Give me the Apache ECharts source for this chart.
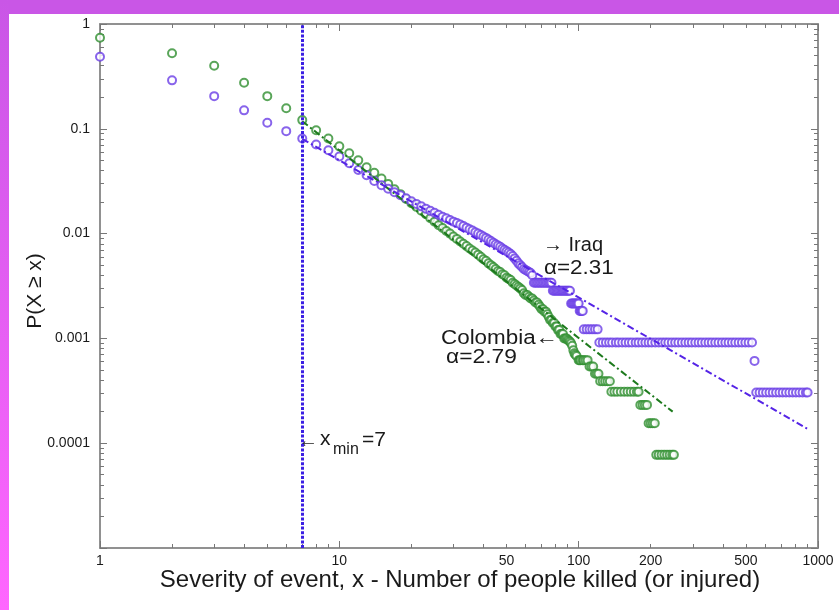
<!DOCTYPE html>
<html><head><meta charset="utf-8">
<script src="https://cdn.jsdelivr.net/npm/echarts@6/dist/echarts.min.js"></script>
<style>html,body{margin:0;padding:0;background:#fff}#c{width:839px;height:610px}</style>
</head><body><div id="c"></div>
<script>
// ---- tick / label values ----
const xMinorTicks = [1,2,3,4,5,6,7,8,9,10,20,30,40,50,60,70,80,90,100,200,300,400,500,600,700,800,900,1000];
const xMajorTicks = [1,10,100,1000];
const xLabels = [1,10,50,100,200,500,1000];
const yMinorTicks = [1e-5,2e-5,3e-5,4e-5,5e-5,6e-5,7e-5,8e-5,9e-5,1e-4,2e-4,3e-4,4e-4,5e-4,6e-4,7e-4,8e-4,9e-4,1e-3,2e-3,3e-3,4e-3,5e-3,6e-3,7e-3,8e-3,9e-3,0.01,0.02,0.03,0.04,0.05,0.06,0.07,0.08,0.09,0.1,0.2,0.3,0.4,0.5,0.6,0.7,0.8,0.9,1];
const yMajorTicks = [1e-5,1e-4,1e-3,0.01,0.1,1];
const yLabels = [0.0001,0.001,0.01,0.1,1];

// ---- Iraq data: [x, P(X>=x)] ----
const iraqBody = [[1,0.487],[2,0.290],[3,0.205],[4,0.150],[5,0.114],[6,0.095],[7,0.0808],[8,0.0708],[9,0.0624],[10,0.0545],[11,0.0470],[12,0.0405],[13,0.0360],[14,0.0318],[15,0.0290],[16,0.0268],[17,0.0248],[18,0.0232],[19,0.0217],[20,0.0203],[21,0.0192],[22,0.0182],[23,0.0173],[24,0.0165],[25,0.0158],[26,0.0151],[27,0.0145],[28,0.0140],[29,0.0135],[30,0.0130],[31,0.0126],[32,0.0122],[33,0.0118],[34,0.0114],[35,0.0110],[36,0.0107],[37,0.0103],[38,0.0100],[39,0.0097],[40,0.0094],[41,0.0091],[42,0.0088],[43,0.0085],[44,0.0082],[45,0.0079],[46,0.0077],[47,0.0075],[48,0.0072],[49,0.0070],[50,0.0068],[51,0.0066],[52,0.0064],[53,0.0061],[54,0.0058],[55,0.0055],[56,0.0052],[57,0.0050],[58,0.0048],[59,0.0046],[60,0.0045],[61,0.0044],[62,0.0043],[63,0.0042],[64,0.0040]];
const iraqSteps = [[65,0.0034],[66,0.0034],[67,0.0034],[68,0.0034],[69,0.0034],[70,0.0034],[71,0.0034],[72,0.0034],[73,0.0034],[74,0.0034],[75,0.0034],[76,0.0034],[77,0.0034],[78,0.00285],[79,0.00285],[80,0.00285],[81,0.00285],[82,0.00285],[83,0.00285],[84,0.00285],[85,0.00285],[86,0.00285],[87,0.00285],[88,0.00285],[89,0.00285],[90,0.00285],[91,0.00285],[92,0.00285],[93,0.00215],[94,0.00215],[95,0.00215],[96,0.00215],[97,0.00215],[98,0.00215],[99,0.00215],[100,0.00215],[101,0.00183],[102,0.00183],[103,0.00183],[104,0.00183],[105,0.00122],[108,0.00122],[111,0.00122],[114,0.00122],[117,0.00122],[120,0.00122]];
const iraqTail = [[122,0.000915],[126,0.000915],[130,0.000915],[134,0.000915],[138,0.000915],[143,0.000915],[147,0.000915],[152,0.000915],[157,0.000915],[162,0.000915],[167,0.000915],[173,0.000915],[178,0.000915],[184,0.000915],[190,0.000915],[196,0.000915],[202,0.000915],[209,0.000915],[216,0.000915],[223,0.000915],[230,0.000915],[237,0.000915],[245,0.000915],[253,0.000915],[261,0.000915],[270,0.000915],[279,0.000915],[288,0.000915],[297,0.000915],[307,0.000915],[317,0.000915],[327,0.000915],[338,0.000915],[349,0.000915],[360,0.000915],[372,0.000915],[384,0.000915],[397,0.000915],[410,0.000915],[423,0.000915],[437,0.000915],[451,0.000915],[466,0.000915],[481,0.000915],[497,0.000915],[513,0.000915],[530,0.000915],[543,0.00061],[552,0.000305],[570,0.000305],[588,0.000305],[607,0.000305],[627,0.000305],[647,0.000305],[668,0.000305],[690,0.000305],[712,0.000305],[735,0.000305],[759,0.000305],[784,0.000305],[809,0.000305],[835,0.000305],[862,0.000305],[890,0.000305],[905,0.000305]];

// ---- Colombia data: [x, P(X>=x)] ----
const colBody = [[1,0.740],[2,0.525],[3,0.399],[4,0.275],[5,0.205],[6,0.157],[7,0.121],[8,0.097],[9,0.0808],[10,0.0680],[11,0.0585],[12,0.0500],[13,0.0430],[14,0.0380],[15,0.0335],[16,0.0298],[17,0.0265],[18,0.0238],[19,0.0214],[20,0.0195],[21,0.0180],[22,0.0165],[23,0.0153],[24,0.0140],[25,0.0130],[26,0.0120],[27,0.0113],[28,0.0106],[29,0.0100],[30,0.0094],[31,0.0089],[32,0.0084],[33,0.0080],[34,0.0076],[35,0.0072],[36,0.0069],[37,0.0066],[38,0.0063],[39,0.0060],[40,0.0057],[41,0.0055],[42,0.0052],[43,0.0050],[44,0.0048],[45,0.0046],[46,0.0044],[47,0.0043],[48,0.0041],[49,0.0040],[50,0.0038],[51,0.0037],[52,0.0036],[53,0.0034],[54,0.0033],[55,0.0032],[56,0.0031],[57,0.0030],[58,0.0029],[59,0.0027],[60,0.0026],[61,0.0026],[62,0.0025],[63,0.0024],[64,0.0024],[65,0.0023],[66,0.0022],[67,0.0022],[68,0.0021],[69,0.0020],[70,0.0019],[71,0.0019],[72,0.0018],[73,0.0018],[74,0.0017],[75,0.0016],[76,0.0015],[77,0.0015],[78,0.0014],[79,0.0014],[80,0.0013],[81,0.0013],[82,0.0012],[83,0.0012],[84,0.0011],[85,0.0011],[86,0.0011],[87,0.0010],[88,0.0010],[89,0.0010],[90,0.00097],[91,0.00095],[92,0.00093]];
const colTail = [[93,0.00090],[94,0.00085],[95,0.00077],[96,0.00072],[97,0.00070],[98,0.00068],[100,0.00062],[101,0.00062],[102,0.00062],[104,0.00062],[105,0.00062],[107,0.00062],[109,0.00062],[111,0.00054],[113,0.00054],[115,0.00054],[117,0.00046],[119,0.00046],[121,0.00046],[123,0.00039],[126,0.00039],[129,0.00039],[132,0.00039],[135,0.00039],[137,0.00031],[141,0.00031],[145,0.00031],[150,0.00031],[155,0.00031],[160,0.00031],[165,0.00031],[170,0.00031],[175,0.00031],[178,0.00031],[181,0.000232],[185,0.000232],[189,0.000232],[193,0.000232],[196,0.000155],[200,0.000155],[204,0.000155],[208,0.000155],[211,0.0000774],[216,0.0000774],[222,0.0000774],[228,0.0000774],[234,0.0000774],[240,0.0000774],[246,0.0000774],[250,0.0000774]];

// ---- power-law fits (endpoints) ----
const iraqFit = [[7,0.080],[905,0.000137]];
const colFit = [[7,0.118],[247,0.000200]];
const xMin = 7;

const FONT = '"Liberation Sans", Arial, Helvetica, sans-serif';
const AX = '#8a8a8a';
const TXT = '#1a1a1a';

function fmt(v){ const r = Math.round(v*1e6)/1e6; return String(r); }

function xAxisDef(pos, ticks, len, labels){
  return {
    type:'log', logBase:10, min:1, max:1000, position:pos, gridIndex:0,
    axisLine:{show:true, lineStyle:{color:AX, width:1.5}},
    axisTick:{show:true, inside:true, length:len, customValues:ticks, lineStyle:{color:'#777', width:1}},
    axisLabel: labels ? {show:true, customValues:labels, formatter:fmt, margin:6, fontSize:14, color:TXT, fontFamily:FONT} : {show:false},
    splitLine:{show:false}, minorTick:{show:false}, minorSplitLine:{show:false}
  };
}
function yAxisDef(pos, ticks, len, labels){
  return {
    type:'log', logBase:10, min:1e-5, max:1, position:pos, gridIndex:0,
    axisLine:{show:true, lineStyle:{color:AX, width:1.5}},
    axisTick:{show:true, inside:true, length:len, customValues:ticks, lineStyle:{color:'#777', width:1}},
    axisLabel: labels ? {show:true, customValues:labels, formatter:fmt, margin:10, fontSize:14, color:TXT, fontFamily:FONT} : {show:false},
    splitLine:{show:false}, minorTick:{show:false}, minorSplitLine:{show:false}
  };
}

const chart = echarts.init(document.getElementById('c'), null, {renderer:'canvas'});
chart.setOption({
  animation:false,
  backgroundColor:'#ffffff',
  grid:{left:100, right:21, top:24, bottom:62, containLabel:false},
  xAxis:[
    xAxisDef('bottom', xMinorTicks, 4, xLabels),
    xAxisDef('bottom', xMajorTicks, 7, null),
    xAxisDef('top', xMinorTicks, 4, null),
    xAxisDef('top', xMajorTicks, 7, null)
  ],
  yAxis:[
    yAxisDef('left', yMinorTicks, 4, yLabels),
    yAxisDef('left', yMajorTicks, 7, null),
    yAxisDef('right', yMinorTicks, 4, null),
    yAxisDef('right', yMajorTicks, 7, null)
  ],
  series:[
    {name:'Colombia', type:'scatter', symbol:'emptyCircle', symbolSize:8, data:colBody.concat(colTail),
     itemStyle:{color:'#2f8f2f', borderColor:'#2f8f2f', borderWidth:1.3}},
    {name:'Iraq', type:'scatter', symbol:'emptyCircle', symbolSize:8, data:iraqBody.concat(iraqSteps, iraqTail),
     itemStyle:{color:'#6a3de6', borderColor:'#6a3de6', borderWidth:1.3},
     markLine:{silent:true, symbol:['none','none'], label:{show:false}, animation:false,
       lineStyle:{color:'#3b1fe3', type:[3,1.6], width:3},
       data:[{xAxis:xMin}]}},
    {name:'Colombia fit', type:'line', data:colFit, symbol:'none', z:3,
     lineStyle:{color:'#1d7a1d', width:2, type:[7,3,2,3]}},
    {name:'Iraq fit', type:'line', data:iraqFit, symbol:'none', z:3,
     lineStyle:{color:'#5524e6', width:2, type:[7,3,2,3]}}
  ],
  graphic:[
    {type:'rect', shape:{x:0,y:0,width:839,height:14}, style:{fill:'#c956e6'}, z:100},
    {type:'rect', shape:{x:0,y:0,width:9,height:610}, style:{fill:new echarts.graphic.LinearGradient(0,0,0,1,[{offset:0,color:'#c956e6'},{offset:1,color:'#ff66ff'}])}, z:100},
    {type:'text', x:35, y:291, rotation:Math.PI/2, style:{text:'P(X ≥ x)', font:'21px '+FONT, fill:TXT, align:'center', verticalAlign:'middle'}},
    {type:'text', x:460, y:580, style:{text:'Severity of event, x - Number of people killed (or injured)', font:'24px '+FONT, fill:TXT, align:'center', verticalAlign:'middle'}},
    {type:'text', x:543, y:245, style:{text:'→ Iraq', font:'20px '+FONT, fill:TXT, verticalAlign:'middle'}},
    {type:'text', x:544, y:268, scaleX:1.12, style:{text:'α=2.31', font:'20px '+FONT, fill:TXT, verticalAlign:'middle'}},
    {type:'text', x:441, y:338, scaleX:1.12, style:{text:'Colombia←', font:'20px '+FONT, fill:TXT, verticalAlign:'middle'}},
    {type:'text', x:446, y:357, scaleX:1.14, style:{text:'α=2.79', font:'20px '+FONT, fill:TXT, verticalAlign:'middle'}},
    {type:'text', x:298, y:441, style:{text:'←', font:'20px '+FONT, fill:TXT, verticalAlign:'middle'}},
    {type:'text', x:320, y:439, style:{text:'x', font:'21px '+FONT, fill:TXT, verticalAlign:'middle'}},
    {type:'text', x:333, y:450, style:{text:'min', font:'16px '+FONT, fill:TXT, verticalAlign:'middle'}},
    {type:'text', x:362, y:440, style:{text:'=7', font:'21px '+FONT, fill:TXT, verticalAlign:'middle'}}
  ]
});
</script></body></html>
